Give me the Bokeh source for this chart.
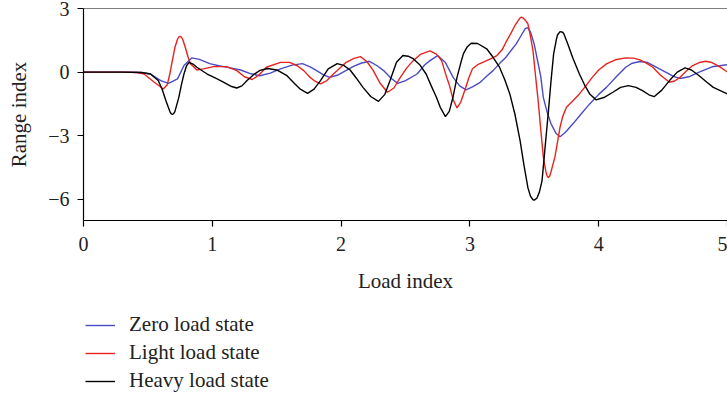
from bokeh.plotting import figure
from bokeh.models import Legend, LegendItem, FixedTicker, Span
from bokeh.layouts import column
from bokeh.embed import file_html
from bokeh.resources import INLINE

# ---- data ----
x_ticks = [0, 1, 2, 3, 4, 5]
y_ticks = [-6, -3, 0, 3]
y_tick_labels = {-6: "\u22126", -3: "\u22123", 0: "0", 3: "3"}
series_names = ["Zero load state", "Light load state", "Heavy load state"]

# (load index, range index) pairs for each state
zero_pts = [(0.00, 0.00), (0.30, 0.00), (0.45, -0.02), (0.52, -0.09), (0.60, -0.40), (0.66, -0.53),
            (0.73, -0.32), (0.78, 0.31), (0.84, 0.67), (0.90, 0.60), (0.98, 0.40), (1.05, 0.30),
            (1.12, 0.22), (1.22, 0.10), (1.30, -0.08), (1.37, -0.17), (1.45, -0.05), (1.53, 0.15),
            (1.62, 0.33), (1.70, 0.40), (1.76, 0.25), (1.81, 0.07), (1.86, -0.12), (1.91, -0.25),
            (1.97, -0.15), (2.04, 0.08), (2.10, 0.28), (2.16, 0.43), (2.22, 0.51), (2.28, 0.30),
            (2.33, 0.07), (2.39, -0.30), (2.44, -0.53), (2.50, -0.40), (2.59, -0.09), (2.65, 0.35),
            (2.69, 0.54), (2.75, 0.78), (2.81, 0.45), (2.87, -0.25), (2.92, -0.65), (2.97, -0.84),
            (3.02, -0.70), (3.08, -0.48), (3.13, -0.20), (3.18, 0.07), (3.23, 0.40), (3.28, 0.70),
            (3.33, 1.10), (3.36, 1.33), (3.40, 1.75), (3.43, 2.05), (3.45, 2.10), (3.47, 1.90),
            (3.50, 1.30), (3.52, 0.70), (3.55, -0.20), (3.57, -1.19), (3.60, -1.90), (3.63, -2.44),
            (3.67, -2.90), (3.70, -3.05), (3.74, -2.85), (3.80, -2.44), (3.86, -2.00), (3.93, -1.50),
            (4.00, -1.05), (4.06, -0.72), (4.14, -0.20), (4.21, 0.23), (4.26, 0.42), (4.32, 0.50),
            (4.38, 0.45), (4.45, 0.22), (4.52, 0.00), (4.58, -0.20), (4.63, -0.30), (4.70, -0.22),
            (4.78, 0.00), (4.88, 0.25), (5.00, 0.35)]

light_pts = [(0.00, 0.00), (0.30, 0.00), (0.42, -0.02), (0.47, -0.09), (0.55, -0.48), (0.62, -0.80),
             (0.65, -0.60), (0.67, -0.09), (0.69, 0.55), (0.71, 1.17), (0.73, 1.55), (0.74, 1.65),
             (0.75, 1.68), (0.76, 1.65), (0.77, 1.55), (0.79, 1.17), (0.81, 0.75), (0.83, 0.39),
             (0.88, 0.10), (0.93, 0.15), (1.01, 0.26), (1.11, 0.26), (1.19, 0.07), (1.25, -0.22),
             (1.31, -0.35), (1.36, -0.15), (1.42, 0.23), (1.53, 0.46), (1.60, 0.46), (1.66, 0.30),
             (1.71, 0.07), (1.76, -0.25), (1.79, -0.40), (1.84, -0.55), (1.89, -0.40), (1.94, -0.09),
             (2.04, 0.46), (2.10, 0.65), (2.15, 0.73), (2.20, 0.50), (2.25, 0.07), (2.30, -0.50),
             (2.36, -0.95), (2.41, -0.75), (2.46, -0.25), (2.51, 0.20), (2.56, 0.54), (2.62, 0.85),
             (2.69, 1.00), (2.74, 0.85), (2.78, 0.54), (2.82, -0.25), (2.84, -0.60), (2.87, -1.30),
             (2.90, -1.69), (2.93, -1.40), (2.96, -0.87), (2.99, -0.30), (3.02, 0.16), (3.06, 0.35),
             (3.10, 0.46), (3.16, 0.62), (3.21, 0.78), (3.25, 1.05), (3.28, 1.41), (3.32, 1.85),
             (3.35, 2.20), (3.38, 2.48), (3.39, 2.56), (3.40, 2.59), (3.41, 2.57), (3.43, 2.45),
             (3.45, 2.28), (3.47, 1.70), (3.49, 1.00), (3.51, -0.20), (3.53, -1.35), (3.55, -2.70),
             (3.57, -4.00), (3.59, -4.70), (3.60, -4.90), (3.61, -4.97), (3.62, -4.90), (3.63, -4.70),
             (3.66, -4.00), (3.68, -3.30), (3.70, -2.60), (3.72, -2.10), (3.75, -1.66), (3.80, -1.35),
             (3.85, -1.03), (3.90, -0.65), (3.95, -0.25), (4.00, 0.10), (4.06, 0.39), (4.13, 0.58),
             (4.21, 0.67), (4.27, 0.66), (4.32, 0.58), (4.37, 0.42), (4.42, 0.23), (4.48, -0.15),
             (4.55, -0.48), (4.59, -0.42), (4.63, -0.25), (4.68, 0.05), (4.73, 0.31), (4.78, 0.45),
             (4.83, 0.51), (4.88, 0.45), (4.94, 0.25), (5.00, 0.00)]

heavy_pts = [(0.00, 0.00), (0.30, 0.00), (0.45, -0.02), (0.52, -0.09), (0.58, -0.40), (0.61, -0.80),
             (0.64, -1.35), (0.67, -1.85), (0.68, -1.96), (0.69, -2.00), (0.70, -1.96), (0.71, -1.85),
             (0.74, -1.19), (0.76, -0.60), (0.78, -0.09), (0.80, 0.30), (0.82, 0.46), (0.85, 0.38),
             (0.88, 0.23), (0.96, -0.09), (1.03, -0.30), (1.09, -0.48), (1.15, -0.68), (1.19, -0.75),
             (1.23, -0.65), (1.27, -0.40), (1.32, -0.12), (1.37, 0.08), (1.43, 0.17), (1.50, 0.10),
             (1.58, -0.17), (1.64, -0.55), (1.68, -0.79), (1.74, -1.00), (1.79, -0.80), (1.84, -0.40),
             (1.90, 0.15), (1.97, 0.40), (2.02, 0.32), (2.07, 0.10), (2.12, -0.30), (2.17, -0.72),
             (2.23, -1.15), (2.29, -1.38), (2.34, -1.05), (2.38, -0.40), (2.43, 0.46), (2.48, 0.78),
             (2.52, 0.75), (2.56, 0.63), (2.61, 0.35), (2.66, -0.09), (2.70, -0.65), (2.74, -1.19),
             (2.77, -1.66), (2.81, -2.10), (2.84, -1.85), (2.87, -1.15), (2.90, -0.25), (2.93, 0.45),
             (2.95, 0.87), (2.98, 1.20), (3.01, 1.36), (3.06, 1.35), (3.13, 1.10), (3.18, 0.70),
             (3.23, 0.23), (3.27, -0.35), (3.31, -1.03), (3.35, -2.00), (3.39, -3.24), (3.42, -4.40),
             (3.45, -5.44), (3.47, -5.85), (3.49, -6.02), (3.50, -6.04), (3.52, -5.95), (3.54, -5.65),
             (3.56, -5.13), (3.58, -3.80), (3.61, -1.82), (3.63, -0.40), (3.65, 0.86), (3.67, 1.50),
             (3.68, 1.75), (3.70, 1.91), (3.72, 1.88), (3.73, 1.80), (3.76, 1.33), (3.80, 0.65),
             (3.85, -0.09), (3.89, -0.60), (3.93, -1.03), (3.98, -1.31), (4.04, -1.20), (4.11, -0.95),
             (4.17, -0.72), (4.23, -0.64), (4.29, -0.72), (4.34, -0.87), (4.39, -1.07), (4.43, -1.16),
             (4.49, -0.85), (4.55, -0.40), (4.61, 0.00), (4.67, 0.20), (4.72, 0.10), (4.78, -0.17),
             (4.84, -0.48), (4.89, -0.72), (5.00, -1.03)]

colors = ["#4b4bc4", "#e8231e", "#000000"]
FONT = "Liberation Serif"
LW = 1.4

series = [zero_pts, light_pts, heavy_pts]
xs = [[pt[0] for pt in s] for s in series]
ys = [[pt[1] for pt in s] for s in series]

# ---- main chart ----
p = figure(width=727, height=300, output_backend="svg", toolbar_location=None,
           x_range=(0, 5), y_range=(-7, 3),
           min_border_left=83, min_border_right=0, min_border_top=8, min_border_bottom=80)
p.grid.visible = False
p.outline_line_color = None

for xv, yv, c in zip(xs, ys, colors):
    p.line(xv, yv, line_color=c, line_width=LW)

p.add_layout(Span(location=3, dimension="width", line_color="black", line_width=1.2))

for ax in (p.xaxis[0], p.yaxis[0]):
    ax.major_tick_in = 0
    ax.major_tick_out = 6
    ax.minor_tick_line_color = None
    ax.axis_line_color = "black"
    ax.axis_line_width = 1.2
    ax.major_tick_line_width = 1.2
    ax.major_label_text_font = FONT
    ax.major_label_text_font_size = "20px"
    ax.major_label_text_color = "#222222"
    ax.axis_label_text_font = FONT
    ax.axis_label_text_font_size = "21px"
    ax.axis_label_text_font_style = "normal"
    ax.axis_label_text_color = "#222222"

p.xaxis.ticker = FixedTicker(ticks=x_ticks)
p.yaxis.ticker = FixedTicker(ticks=y_ticks)
p.yaxis.major_label_overrides = y_tick_labels
p.xaxis.axis_label = "Load index"
p.yaxis.axis_label = "Range index"
p.xaxis.major_label_standoff = 10
p.xaxis.axis_label_standoff = 15
p.yaxis.major_label_standoff = 8
p.yaxis.axis_label_standoff = 14

# ---- legend strip below the chart (same series, range kept out of view) ----
p2 = figure(width=727, height=100, output_backend="svg", toolbar_location=None,
            x_range=(0, 5), y_range=(100, 101), x_axis_location=None, y_axis_location=None,
            min_border_left=83, min_border_right=0, min_border_top=0, min_border_bottom=0)
p2.grid.visible = False
p2.outline_line_color = None
rs = [p2.line(xv, yv, line_color=c, line_width=LW) for xv, yv, c in zip(xs, ys, colors)]

legend = Legend(items=[LegendItem(label=n, renderers=[r]) for n, r in zip(series_names, rs)],
                location=(2, 7), orientation="vertical", margin=0, padding=0, spacing=3,
                glyph_width=30, glyph_height=20, label_height=20, label_standoff=14,
                label_text_font=FONT, label_text_font_size="21px", label_text_color="#222222",
                border_line_color=None, background_fill_alpha=0)
p2.add_layout(legend, "center")

layout = column(p, p2, spacing=0)
open("out.html", "w").write(file_html(layout, INLINE))
